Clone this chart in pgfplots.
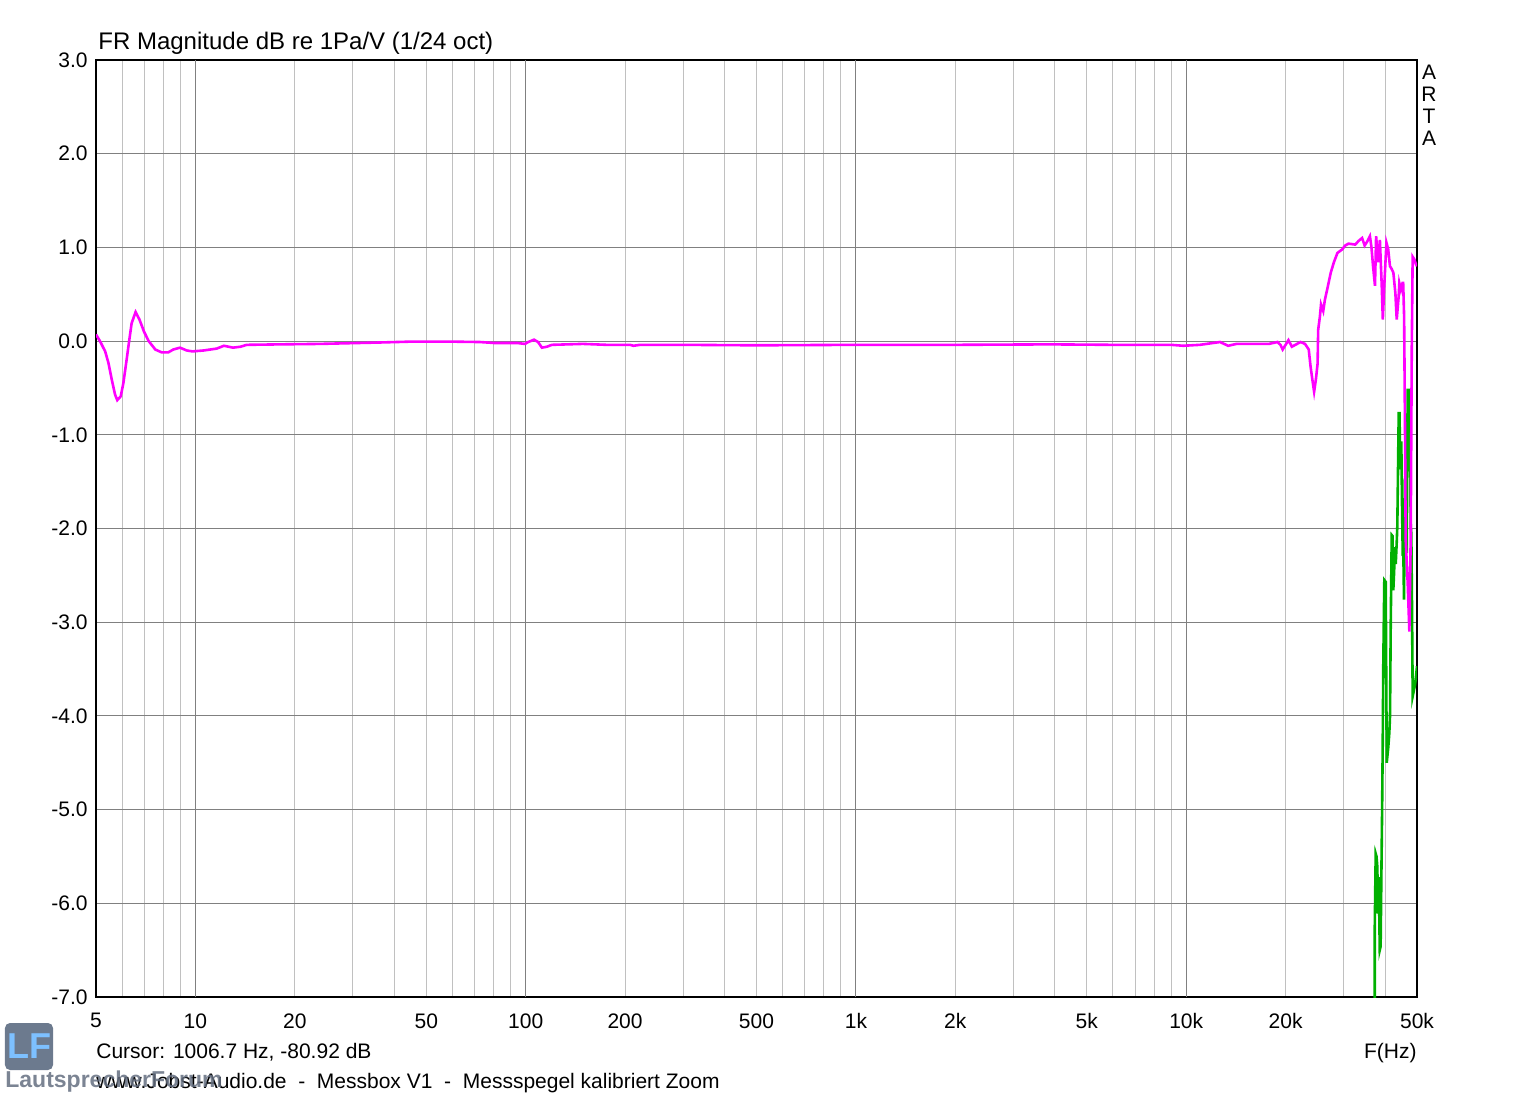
\documentclass[border=0pt]{standalone}
\usepackage{pgfplots}
\pgfplotsset{compat=1.18}
\usepackage{fontspec}
\setmainfont{Liberation Sans}

\definecolor{fr}{RGB}{255,0,255}
\definecolor{ph}{RGB}{0,176,0}
\definecolor{gridmaj}{RGB}{128,128,128}
\definecolor{gridmin}{RGB}{192,192,192}
\definecolor{lfbox}{RGB}{108,122,142}
\definecolor{lfblue}{RGB}{125,192,255}
\definecolor{lftext}{RGB}{100,110,128}

\newcommand\af{\fontsize{10.5}{12}\selectfont}

\begin{document}
\begin{tikzpicture}
\useasboundingbox (-48pt,-50.5pt) rectangle (708.5pt,498.5pt);
\begin{axis}[
    scale only axis,
    width=660.5pt, height=468.5pt,
    xmode=log,
    xmin=5, xmax=50000,
    ymin=-7, ymax=3,
    axis line style={black, line width=0.75pt},
    major tick length=0pt, minor tick length=0pt,
    xtick={5,10,20,50,100,200,500,1000,2000,5000,10000,20000,50000},
    xticklabels={5,10,20,50,100,200,500,1k,2k,5k,10k,20k,50k},
    minor xtick={6,7,8,9,20,30,40,50,60,70,80,90,200,300,400,500,600,700,800,900,
                 2000,3000,4000,5000,6000,7000,8000,9000,20000,30000,40000},
    extra x ticks={10,100,1000,10000},
    extra x tick labels={},
    extra x tick style={xmajorgrids=true, major grid style={gridmaj, line width=0.5pt}},
    xmajorgrids=false, xminorgrids=true,
    minor grid style={gridmin, line width=0.5pt},
    ytick={-7,-6,-5,-4,-3,-2,-1,0,1,2,3},
    yticklabels={-7.0,-6.0,-5.0,-4.0,-3.0,-2.0,-1.0,0.0,1.0,2.0,3.0},
    ymajorgrids=true,
    major grid style={gridmaj, line width=0.5pt},
    tick label style={font=\af},
    xticklabel style={inner sep=0pt, anchor=north, yshift=-8pt},
    yticklabel style={inner sep=0pt, anchor=east, xshift=-4pt},
]
% green trace
\addplot[ph, line width=1.3pt] coordinates {
(37230,-7.5)(37230,-6.30)(37490,-5.47)(37700,-5.50)(37920,-5.61)(38100,-6.11)
(38300,-5.72)(38560,-6.50)(38800,-6.46)(38990,-5.75)(39200,-5.02)(39370,-4.29)
(39530,-3.44)(39810,-2.55)(40200,-2.57)(40480,-4.5)(40930,-4.33)(41220,-4.18)
(41420,-4.0)(41620,-3.05)(41920,-2.07)(42150,-2.08)(42380,-2.66)(42600,-2.48)
(42890,-2.20)(43100,-2.38)(43400,-2.15)(43580,-1.98)(43790,-1.39)(44010,-0.77)
(44250,-0.77)(44500,-1.37)(44810,-1.07)(45030,-1.73)(45250,-2.25)(45450,-2.24)
(45660,-2.76)(45990,-1.48)(46250,-1.44)(46530,-2.26)(46850,-0.52)(47200,-0.52)
(47620,-1.12)(47850,-1.98)(48050,-2.05)(48280,-2.83)(48510,-3.79)(48960,-3.72)
(49300,-3.67)(49640,-3.58)(50000,-3.47)
};
% magenta trace
\addplot[fr, line width=1.3pt] coordinates {
(5,0.07)(5.14,0.0)(5.33,-0.11)(5.45,-0.23)(5.58,-0.41)(5.71,-0.57)(5.80,-0.63)
(5.94,-0.59)(6.05,-0.45)(6.19,-0.20)(6.30,0.0)(6.41,0.19)(6.59,0.31)(6.77,0.23)
(6.99,0.10)(7.22,0.0)(7.56,-0.09)(7.9,-0.12)(8.28,-0.12)(8.57,-0.09)(8.98,-0.07)
(9.41,-0.10)(9.8,-0.11)(10.6,-0.10)(11.6,-0.08)(12.2,-0.05)(13.0,-0.07)(13.7,-0.06)
(14.3,-0.04)(18.0,-0.035)(23.8,-0.03)(36.2,-0.015)(45.7,-0.005)(57.6,-0.005)
(72.7,-0.01)(80,-0.02)(94,-0.02)(99.5,-0.03)(101.8,-0.01)(106,0.015)(109,-0.01)
(112,-0.07)(116,-0.06)(120,-0.04)(149,-0.03)(176,-0.04)(207,-0.04)(212,-0.05)
(222,-0.04)(300,-0.04)(500,-0.045)(1000,-0.04)(2000,-0.04)(3870,-0.035)
(6000,-0.04)(9000,-0.04)(9800,-0.05)(11000,-0.04)(12660,-0.01)(13400,-0.05)
(14200,-0.03)(16600,-0.03)(17800,-0.03)(18900,-0.01)(19300,-0.04)(19600,-0.09)
(20000,-0.04)(20400,0.01)(20900,-0.06)(21400,-0.04)(22200,-0.01)(22900,-0.03)
(23500,-0.09)(23800,-0.27)(24100,-0.41)(24400,-0.54)(24700,-0.41)(25000,-0.24)
(25100,0.12)(25400,0.26)(25600,0.39)(26000,0.32)(26300,0.44)(26800,0.57)
(27400,0.73)(28000,0.84)(28700,0.94)(29700,0.98)(30300,1.02)(31000,1.04)
(32500,1.03)(33300,1.07)(34100,1.10)(34700,1.02)(35300,1.06)(36000,1.12)
(36400,1.0)(36800,0.80)(37300,0.59)(37600,1.12)(38100,0.84)(38600,1.08)
(39100,0.59)(39400,0.23)(39800,0.59)(40400,1.05)(40900,0.98)(41400,0.80)
(41900,0.77)(42400,0.73)(43000,0.51)(43400,0.23)(44000,0.48)(44200,0.62)
(44700,0.55)(45200,0.62)(45400,0.62)(45700,0.26)(46000,-1.02)(46200,-2.12)
(46850,-2.58)(47400,-3.1)(47850,-2.08)(48200,-0.08)(48500,0.9)(49100,0.87)
(49600,0.82)(50000,0.8)
};
\end{axis}
% texts around the axis (axis box south west at origin)
\node[anchor=base west, inner sep=0pt, font=\fontsize{12}{14}\selectfont] at (1pt,473.5pt) {FR Magnitude dB re 1Pa/V (1/24 oct)};
\node[anchor=base west, inner sep=0pt, font=\af] at (0pt,-30.75pt) {Cursor: 1006.7 Hz, -80.92 dB};
\node[anchor=base east, inner sep=0pt, font=\af] at (660.5pt,-30.75pt) {F(Hz)};
\node[font=\af, inner sep=0pt] at (666.5pt,462.5pt) {A};
\node[font=\af, inner sep=0pt] at (666.5pt,451.5pt) {R};
\node[font=\af, inner sep=0pt] at (666.5pt,440.5pt) {T};
\node[font=\af, inner sep=0pt] at (666.5pt,429.5pt) {A};
% watermark logo
\fill[lfbox, rounded corners=2.5pt] (-45.5pt,-36.5pt) rectangle (-21.5pt,-13pt);
\node[text=lfblue, font=\bfseries\fontsize{18}{18}\selectfont, inner sep=0pt] at (-33.5pt,-24.5pt) {LF};
\node[anchor=base west, inner sep=0pt, font=\af] at (0pt,-45.75pt) {www.Jobst-Audio.de\ \ -\ \ Messbox V1\ \ -\ \ Messspegel kalibriert Zoom};
\node[anchor=base west, inner sep=0pt, text=lftext, opacity=0.85, font=\bfseries\fontsize{11.5}{12}\selectfont] at (-45.5pt,-45pt) {LautsprecherForum};
\end{tikzpicture}
\end{document}
